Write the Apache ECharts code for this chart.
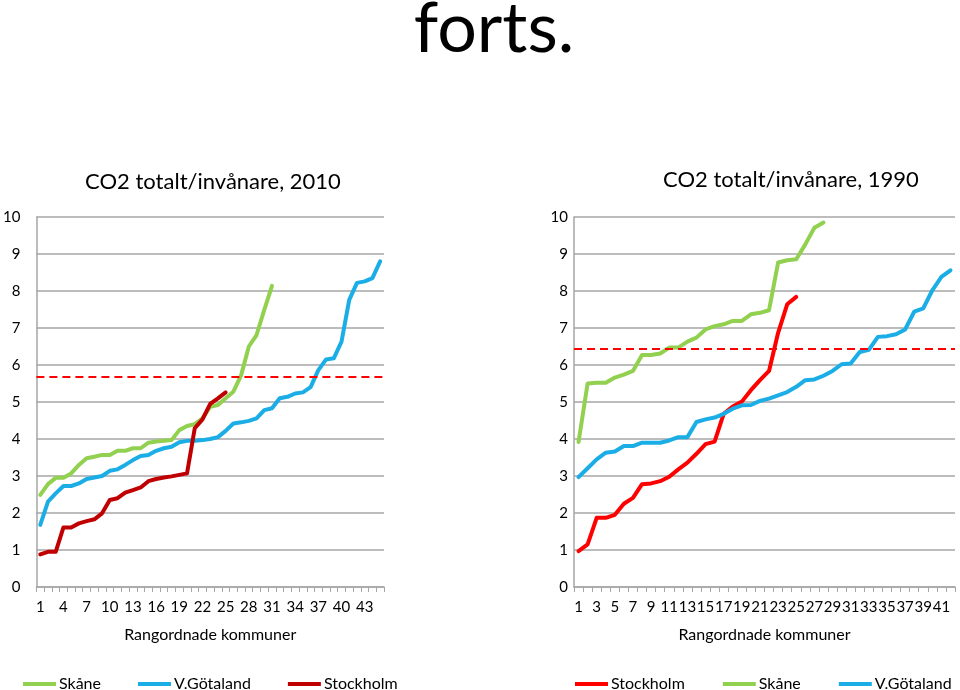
<!DOCTYPE html>
<html>
<head>
<meta charset="utf-8">
<script src="https://cdn.jsdelivr.net/npm/echarts@6/dist/echarts.min.js"></script>
<style>
html,body{margin:0;padding:0;background:#fff;}
#chart{width:960px;height:690px;}
</style>
</head>
<body>
<div id="chart"></div>
<script>
// ---- Data ----
const pageTitle = 'forts.';
const title2010 = 'CO2 totalt/invånare, 2010';
const title1990 = 'CO2 totalt/invånare, 1990';
const axisName = 'Rangordnade kommuner';

const ranks2010 = ['1','2','3','4','5','6','7','8','9','10','11','12','13','14','15','16','17','18','19','20','21','22','23','24','25','26','27','28','29','30','31','32','33','34','35','36','37','38','39','40','41','42','43','44','45'];
const ranks1990 = ['1','2','3','4','5','6','7','8','9','10','11','12','13','14','15','16','17','18','19','20','21','22','23','24','25','26','27','28','29','30','31','32','33','34','35','36','37','38','39','40','41','42'];

const skane2010 = [2.49, 2.78, 2.95, 2.95, 3.07, 3.30, 3.48, 3.52, 3.57, 3.57, 3.68, 3.68, 3.75, 3.75, 3.90, 3.93, 3.95, 3.97, 4.24, 4.35, 4.40, 4.56, 4.87, 4.92, 5.10, 5.28, 5.72, 6.50, 6.81, 7.49, 8.14];
const vgot2010 = [1.68, 2.31, 2.53, 2.73, 2.73, 2.80, 2.92, 2.96, 3.00, 3.14, 3.18, 3.30, 3.43, 3.54, 3.57, 3.68, 3.75, 3.79, 3.91, 3.95, 3.95, 3.97, 4.00, 4.05, 4.22, 4.42, 4.45, 4.49, 4.56, 4.78, 4.83, 5.10, 5.14, 5.23, 5.26, 5.40, 5.86, 6.15, 6.18, 6.63, 7.76, 8.22, 8.26, 8.35, 8.80];
const sthlm2010 = [0.88, 0.95, 0.95, 1.61, 1.61, 1.72, 1.78, 1.83, 1.99, 2.35, 2.40, 2.55, 2.62, 2.69, 2.86, 2.92, 2.96, 2.99, 3.03, 3.07, 4.29, 4.53, 4.95, 5.10, 5.26];
const avg2010 = 5.68;

const sthlm1990 = [0.97, 1.15, 1.87, 1.87, 1.95, 2.25, 2.41, 2.78, 2.80, 2.86, 2.98, 3.18, 3.36, 3.60, 3.86, 3.93, 4.68, 4.88, 5.01, 5.32, 5.59, 5.84, 6.87, 7.64, 7.84];
const skane1990 = [3.92, 5.50, 5.52, 5.52, 5.66, 5.74, 5.84, 6.27, 6.27, 6.31, 6.47, 6.47, 6.63, 6.74, 6.96, 7.05, 7.10, 7.19, 7.19, 7.37, 7.41, 7.48, 8.77, 8.83, 8.86, 9.26, 9.71, 9.85];
const vgot1990 = [2.97, 3.21, 3.45, 3.63, 3.66, 3.81, 3.81, 3.90, 3.90, 3.90, 3.96, 4.05, 4.05, 4.46, 4.53, 4.58, 4.68, 4.82, 4.91, 4.92, 5.03, 5.09, 5.18, 5.27, 5.41, 5.59, 5.61, 5.71, 5.84, 6.02, 6.04, 6.35, 6.41, 6.76, 6.78, 6.83, 6.96, 7.44, 7.53, 8.02, 8.38, 8.56];
const avg1990 = 6.44;

const yTicks = [0, 1, 2, 3, 4, 5, 6, 7, 8, 9, 10];

// ---- Styles ----
const FONT = 'Lato, "Open Sans", sans-serif';
const GREEN = '#92D050', BLUE = '#1AADE6', DARKRED = '#C00000', RED = '#FF0000';
const GRID_C = '#A6A6A6';

function yAxisCfg(gridIndex, margin) {
  return {
    type: 'value', gridIndex: gridIndex, min: yTicks[0], max: yTicks[yTicks.length - 1], interval: 1,
    axisLine: { show: true, lineStyle: { color: GRID_C, width: 1.5 } },
    axisTick: { show: false },
    splitLine: { show: true, lineStyle: { color: GRID_C, width: 1.5 } },
    axisLabel: { color: '#000', fontFamily: FONT, fontSize: 15, margin: margin }
  };
}
function xAxisCfg(gridIndex, cats, interval) {
  return {
    type: 'category', gridIndex: gridIndex, data: cats, boundaryGap: true,
    name: axisName, nameLocation: 'middle', nameGap: 40,
    nameTextStyle: { color: '#000', fontFamily: FONT, fontSize: 16 },
    axisLine: { show: true, lineStyle: { color: GRID_C, width: 1.5 } },
    axisTick: { show: true, interval: 0, length: 5, lineStyle: { color: GRID_C, width: 1 } },
    axisLabel: { interval: interval, color: '#000', fontFamily: FONT, fontSize: 15, margin: 13 },
    splitLine: { show: false }
  };
}
function lineSeries(name, data, color, xi, extra) {
  const s = {
    name: name, type: 'line', xAxisIndex: xi, yAxisIndex: xi, data: data,
    symbol: 'none', color: color, smooth: false,
    lineStyle: { width: 4, color: color, cap: 'round', join: 'round' },
    z: 3
  };
  return Object.assign(s, extra || {});
}
function avgMark(val) {
  return {
    silent: true, symbol: 'none', label: { show: false },
    lineStyle: { type: [8, 5], color: RED, width: 2 },
    data: [{ yAxis: val }]
  };
}

const chart = echarts.init(document.getElementById('chart'), null, { renderer: 'canvas' });
const stripYear = n => n.replace(/ \(\d{4}\)$/, '');

chart.setOption({
  animation: false,
  backgroundColor: '#fff',
  title: [
    { text: pageTitle, left: 489, top: -11, textAlign: 'center',
      textStyle: { fontFamily: FONT, fontWeight: 'normal', fontSize: 70, color: '#000' } },
    { text: title2010, left: 208, top: 166, textAlign: 'center',
      textStyle: { fontFamily: FONT, fontWeight: 'normal', fontSize: 22, color: '#000' } },
    { text: title1990, left: 786, top: 164, textAlign: 'center',
      textStyle: { fontFamily: FONT, fontWeight: 'normal', fontSize: 22, color: '#000' } }
  ],
  legend: [
    { left: 18, top: 671, itemWidth: 33, itemHeight: 4, itemGap: 37, icon: 'rect',
      data: ['Skåne (2010)', 'V.Götaland (2010)', 'Stockholm (2010)'], formatter: stripYear,
      textStyle: { fontFamily: FONT, fontSize: 16, color: '#000', padding: [0, 0, 0, -2] } },
    { left: 570, top: 671, itemWidth: 33, itemHeight: 4, itemGap: 38, icon: 'rect',
      data: ['Stockholm (1990)', 'Skåne (1990)', 'V.Götaland (1990)'], formatter: stripYear,
      textStyle: { fontFamily: FONT, fontSize: 16, color: '#000', padding: [0, 0, 0, -2] } }
  ],
  grid: [
    { left: 33, right: 576, top: 217, bottom: 103 },
    { left: 574, right: 5, top: 217, bottom: 103 }
  ],
  xAxis: [xAxisCfg(0, ranks2010, 2), xAxisCfg(1, ranks1990, 1)],
  yAxis: [yAxisCfg(0, 16), yAxisCfg(1, 6)],
  series: [
    lineSeries('Skåne (2010)', skane2010, GREEN, 0, { markLine: avgMark(avg2010) }),
    lineSeries('V.Götaland (2010)', vgot2010, BLUE, 0),
    lineSeries('Stockholm (2010)', sthlm2010, DARKRED, 0),
    lineSeries('Stockholm (1990)', sthlm1990, RED, 1, { markLine: avgMark(avg1990) }),
    lineSeries('Skåne (1990)', skane1990, GREEN, 1),
    lineSeries('V.Götaland (1990)', vgot1990, BLUE, 1)
  ]
});
</script>
</body>
</html>
